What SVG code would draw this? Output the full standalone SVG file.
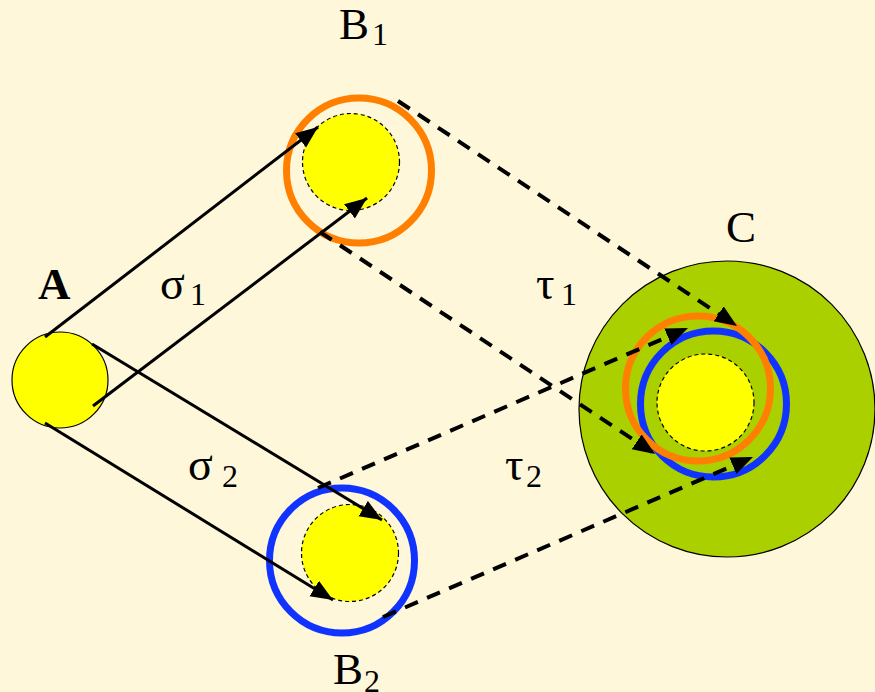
<svg xmlns="http://www.w3.org/2000/svg" width="875" height="692" viewBox="0 0 875 692">
<style>
.lbl{font-family:"Liberation Serif","Times New Roman",serif;font-size:45px;fill:#000}
.gr{font-family:"Liberation Serif","Times New Roman",serif;font-size:46px;fill:#000}
.sub{font-family:"Liberation Serif","Times New Roman",serif;font-size:32px;fill:#000}
.yel{fill:#FFFF00;stroke:#000;stroke-width:1.2;stroke-dasharray:4 3}
.orange{fill:none;stroke:#FF8000;stroke-width:7}
.blue{fill:none;stroke:#1133FF;stroke-width:7}
.solid{stroke:#000;stroke-width:3;fill:none;marker-end:url(#ah)}
.dash{stroke:#000;stroke-width:4;fill:none;stroke-dasharray:14 10;marker-end:url(#ah)}
</style>
<defs>
<marker id="ah" markerUnits="userSpaceOnUse" markerWidth="24" markerHeight="20" refX="22" refY="9" orient="auto">
<path d="M0,0 L22,9 L0,18 z" fill="#000"/>
</marker>
</defs>
<rect width="875" height="692" fill="#FEF7DA"/>

<g id="nodeA">
<circle cx="60" cy="380" r="48" fill="#FFFF00" stroke="#000" stroke-width="1.2"/>
<text class="lbl" x="38" y="299" font-weight="bold">A</text>
</g>

<g id="nodeB1">
<circle class="orange" cx="359" cy="170.5" r="72.5"/>
<circle class="yel" cx="351" cy="162" r="48.5"/>
<text class="lbl" x="339" y="39">B</text><text class="sub" x="372" y="45">1</text>
</g>

<g id="nodeB2">
<circle class="blue" cx="342" cy="560.5" r="72.5"/>
<circle class="yel" cx="350" cy="553" r="48.5"/>
<text class="lbl" x="333" y="684">B</text><text class="sub" x="364" y="692">2</text>
</g>

<g id="nodeC">
<circle cx="727" cy="409" r="148" fill="#AAD000" stroke="#000" stroke-width="1.2"/>
<circle class="yel" cx="705.5" cy="402.5" r="48.5"/>
<circle class="blue" cx="713.5" cy="404" r="73"/>
<circle class="orange" cx="698" cy="388.5" r="72.5"/>
<text class="lbl" x="726" y="242">C</text>
</g>

<g id="labels">
<text class="gr" x="160" y="299">σ</text><text class="sub" x="190" y="305">1</text>
<text class="gr" x="188" y="480">σ</text><text class="sub" x="222" y="487">2</text>
<text class="gr" x="536" y="299">τ</text><text class="sub" x="561" y="305">1</text>
<text class="gr" x="505" y="480">τ</text><text class="sub" x="526" y="487">2</text>
</g>

<g id="connectors">
<line class="solid" x1="45" y1="337" x2="318" y2="127"/>
<line class="solid" x1="93" y1="406" x2="367" y2="198"/>
<line class="solid" x1="92" y1="344" x2="382" y2="520"/>
<line class="solid" x1="45" y1="423" x2="333" y2="600"/>
<line class="dash" x1="398" y1="101" x2="737" y2="326"/>
<line class="dash" x1="320" y1="232" x2="655" y2="454"/>
<line class="dash" x1="318" y1="488" x2="688" y2="328"/>
<line class="dash" x1="383" y1="617" x2="753" y2="457"/>
</g>
</svg>
